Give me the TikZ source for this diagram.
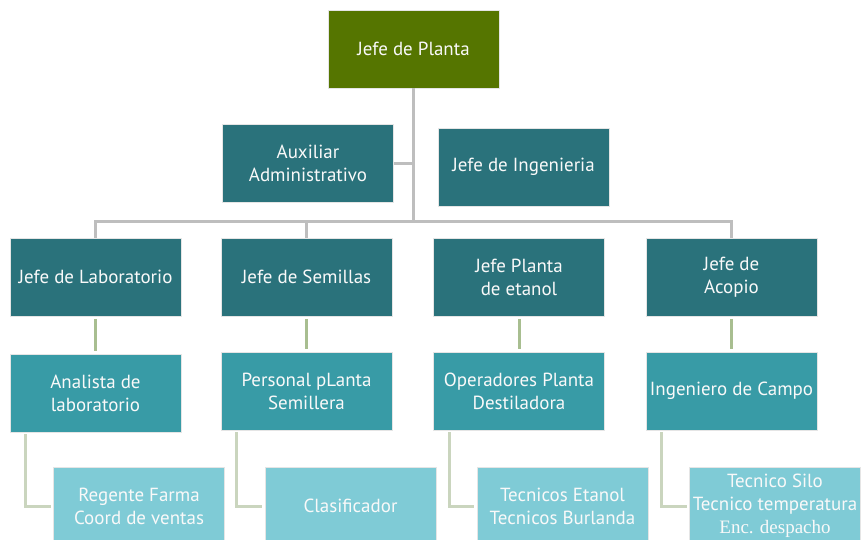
\documentclass[tikz,border=0pt]{standalone}
\usepackage{fontspec}
\setmainfont{PT Sans}
\newfontfamily\serifa{Liberation Serif}

\definecolor{oliva}{HTML}{557500}
\definecolor{tealosc}{HTML}{2A727B}
\definecolor{tealmed}{HTML}{389BA6}
\definecolor{celeste}{HTML}{7FCBD6}
\definecolor{gristr}{HTML}{BEBEBE}
\definecolor{verderama}{HTML}{A8BE90}
\definecolor{verdehoja}{HTML}{CAD5BE}

\tikzset{
  caja/.style = {draw = white!80!gray, line width = 0.4pt, text = white!95!gray,
                 minimum width = 3.42cm, minimum height = 1.56cm,
                 align = center, inner sep = 1pt, font = \fontsize{10.8}{13}\selectfont},
  jefe/.style = {caja, fill = oliva},
  nivel/.style = {caja, fill = tealosc},
  sub/.style = {caja, fill = tealmed},
  det/.style = {caja, fill = celeste},
  tronco/.style = {gristr, line width = 1.7pt},
  rama/.style = {verderama, line width = 1.7pt},
  hoja/.style = {verdehoja, line width = 1.7pt}
}

\begin{document}
\begin{tikzpicture}[x = 0.02cm, y = -0.02cm]
    \useasboundingbox (0, 0) rectangle (861, 539);

    % cabeza
    \node [jefe] (planta) at (413.5, 49) {Jefe de Planta};
    \node [nivel] (aux) at (308, 163) {Auxiliar\\Administrativo};
    \node [nivel] (ing) at (523.5, 167) {Jefe de Ingenieria};

    % jefaturas
    \node [nivel] (lab) at (95.5, 277) {Jefe de Laboratorio};
    \node [nivel] (sem) at (306.5, 277) {Jefe de Semillas};
    \node [nivel] (eta) at (519, 277) {Jefe Planta\\de etanol};
    \node [nivel] (aco) at (731.5, 277) {Jefe de\\Acopio};

    \node [sub] (ana) at (95.5, 393) {Analista de\\laboratorio};
    \node [sub] (per) at (306.5, 391) {Personal pLanta\\Semillera};
    \node [sub] (ope) at (519, 391) {Operadores Planta\\Destiladora};
    \node [sub] (cam) at (731.5, 391) {Ingeniero de Campo};

    \node [det] (reg) at (139, 506) {Regente Farma\\Coord de ventas};
    \node [det] (cla) at (350.5, 506) {Clasificador};
    \node [det] (tec) at (562.5, 506) {Tecnicos Etanol\\Tecnicos Burlanda};
    \node [det] (sil) at (775, 506) {Tecnico Silo\\Tecnico temperatura\\{\serifa Enc. despacho}};

    % conectores
    \coordinate (bus) at (413.5, 221);
    \draw [tronco] (planta.south) -- (bus);
    \draw [tronco] (aux.east) -- (aux.east -| planta);
    \draw [tronco] (lab.north) -- (lab |- bus) -- (aco |- bus) -- (aco.north);
    \draw [tronco] (sem |- bus) -- (sem.north);

    \foreach \a/\b in {lab/ana, sem/per, eta/ope, aco/cam} {
      \draw [rama] ([yshift = -1.5pt] \a.south) -- ([yshift = 1.5pt] \b.north);
    }

    \foreach \a/\b in {ana/reg, per/cla, ope/tec, cam/sil} {
      \draw [hoja] ([xshift = 0.32cm, yshift = -1pt] \a.south west) |- ([xshift = -1.5pt] \b.west);
    }
  \end{tikzpicture}
\end{document}
